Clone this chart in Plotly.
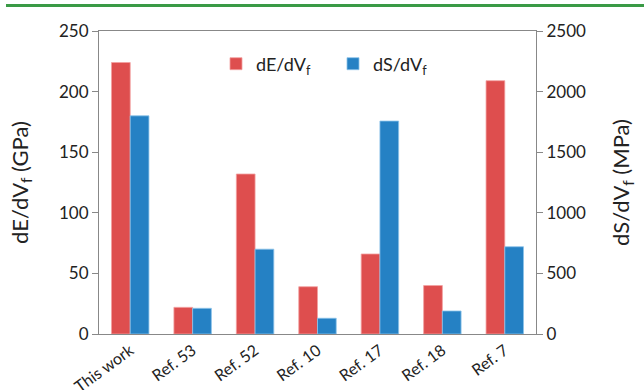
import plotly.graph_objects as go

categories = ["This work", "Ref. 53", "Ref. 52", "Ref. 10", "Ref. 17", "Ref. 18", "Ref. 7"]
dE_dVf = [224, 22, 132, 39, 66, 40, 209]          # GPa, left axis
dS_dVf = [1800, 212, 700, 130, 1757, 190, 720]    # MPa, right axis

red = "#DE4E4E"
blue = "#2581C4"
axis_col = "#888888"
font_family = "Lato, 'Open Sans', sans-serif"

L, R, T, B = 99, 108, 31, 56
W, H = 644, 390
pw, ph = W - L - R, H - T - B

fig = go.Figure()
fig.add_trace(go.Bar(
    x=categories, y=dE_dVf, name="dE/dV<sub>f</sub>",
    marker=dict(color=red, line=dict(color="#F2A0A0", width=0.8)),
    width=0.3, offset=-0.3, yaxis="y"))
fig.add_trace(go.Bar(
    x=categories, y=dS_dVf, name="dS/dV<sub>f</sub>",
    marker=dict(color=blue, line=dict(color="#8CC3EA", width=0.8)),
    width=0.3, offset=0.0, yaxis="y2"))

fig.update_layout(
    width=W, height=H,
    margin=dict(l=L, r=R, t=T, b=B, autoexpand=False),
    paper_bgcolor="white", plot_bgcolor="white",
    font=dict(family=font_family, size=15, color="#222222"),
    showlegend=True,
    legend=dict(orientation="h", x=(216 - L) / pw, y=(334 - 64) / ph, xanchor="left", yanchor="middle",
                font=dict(size=18, color="#222222"), bgcolor="rgba(0,0,0,0)",
                itemwidth=30, entrywidth=72, entrywidthmode="pixels", traceorder="normal"),
    xaxis=dict(showline=True, linecolor=axis_col, linewidth=1.2, mirror=True, automargin=False,
               ticks="", tickangle=-36, tickfont=dict(size=16, color="#222222"),
               showgrid=False, zeroline=False),
    yaxis=dict(range=[0, 250], dtick=50, showline=True, linecolor=axis_col, linewidth=1.2,
               automargin=False,
               ticks="outside", ticklen=6, tickcolor=axis_col, showgrid=False, zeroline=False,
               tickfont=dict(size=17, color="#222222"),
               title=dict(text="dE/dV<sub>f</sub> (GPa)", font=dict(size=22, color="#222222"), standoff=24)),
    yaxis2=dict(range=[0, 2500], dtick=500, overlaying="y", side="right",
                showline=True, linecolor=axis_col, linewidth=1.2, automargin=False,
                ticks="outside", ticklen=6, tickcolor=axis_col, showgrid=False, zeroline=False,
                tickfont=dict(size=17, color="#222222"),
                title=dict(text="dS/dV<sub>f</sub> (MPa)", font=dict(size=22, color="#222222"), standoff=28)),
)

# green rule at the top of the page
yg = 1.0 + (T - 5.5) / ph
fig.add_shape(type="line", xref="paper", yref="paper",
              x0=(6 - L) / pw, x1=(W - L) / pw, y0=yg, y1=yg,
              line=dict(color="#3A9A46", width=3))

fig.write_html("out.html", config={"displayModeBar": False},
               post_script="document.body.style.margin='0px';document.body.style.overflow='hidden';")
